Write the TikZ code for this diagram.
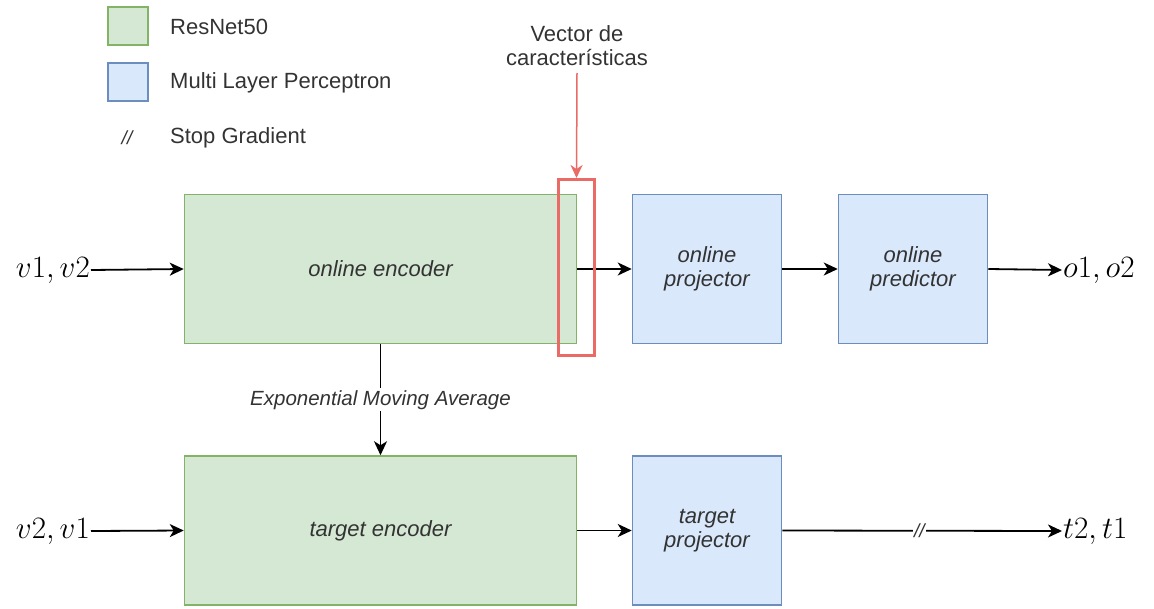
\documentclass[tikz,border=0pt]{standalone}
\usepackage{fontspec}
\setmainfont{Liberation Sans}
\usetikzlibrary{arrows.meta}
\definecolor{encfill}{HTML}{D5E8D4}
\definecolor{encline}{HTML}{82B366}
\definecolor{mlpfill}{HTML}{DAE8FC}
\definecolor{mlpline}{HTML}{6C8EBF}
\definecolor{featred}{HTML}{EA6B66}
\definecolor{txt}{HTML}{333333}
\newcommand{\bigmath}[1]{\scalebox{1.25}{$#1$}}
\begin{document}
\begin{tikzpicture}[x=1pt,y=-1pt,
  font=\fontsize{22}{24}\selectfont,
  enc/.style={draw=encline, fill=encfill, line width=1.5pt,
    minimum width=392pt, minimum height=149pt, inner sep=0pt,
    font=\fontsize{22}{24}\selectfont\itshape, text=txt},
  mlp/.style={draw=mlpline, fill=mlpfill, line width=1.5pt,
    minimum width=149pt, minimum height=149pt, inner sep=0pt, align=center,
    font=\fontsize{22}{24}\selectfont\itshape, text=txt},
  flow/.style={-{Stealth[length=14pt,width=13pt,inset=4pt]}, line width=1.8pt},
  var/.style={font=\fontsize{24.88}{28}\selectfont, inner sep=1pt},
  legtext/.style={anchor=west, inner sep=0pt, text=txt},
]
\useasboundingbox (0,0) rectangle (1154,608);

% legend
\node[draw=encline, fill=encfill, line width=2pt, minimum width=40pt, minimum height=38pt] (lgres) at (128,26) {};
\node[legtext] (lgrest) at (170,27) {ResNet50};
\node[draw=mlpline, fill=mlpfill, line width=2pt, minimum width=40pt, minimum height=38pt] (lgmlp) at (128,82) {};
\node[legtext] (lgmlpt) at (170,83) {Multi Layer Perceptron};
\node[inner sep=0pt, text=txt, font=\fontsize{19}{20}\selectfont\itshape] (lgsg) at (127,138) {//};
\node[legtext] (lgsgt) at (170,138) {Stop Gradient};

% online branch
\node[enc] (onenc) at (380.5,269) {online encoder};
\node[mlp] (onproj) at (707,269) {online\\projector};
\node[mlp] (onpred) at (913,269) {online\\predictor};
\node[var, anchor=east] (in1) at (91,270) {\bigmath{v1, v2}};
\node[var, anchor=west] (out1) at (1062,270) {\bigmath{o1, o2}};

% target branch
\node[enc] (tgenc) at (380.5,530.5) {target encoder};
\node[mlp] (tgproj) at (707,530.5) {target\\projector};
\node[var, anchor=east] (in2) at (91,531) {\bigmath{v2, v1}};
\node[var, anchor=west] (out2) at (1062,531) {\bigmath{t2, t1}};

% connectors
\draw[flow] (in1.east) -- (onenc.west);
\draw[flow] (onenc.east) -- (onproj.west);
\draw[flow] (onproj.east) -- (onpred.west);
\draw[flow] (onpred.east) -- (out1.west);
\draw[flow] (in2.east) -- (tgenc.west);
\draw[flow] (tgenc.east) -- (tgproj.west);
\draw[flow] (tgproj.east) -- (out2.west)
  node[pos=0.49, fill=white, inner sep=1pt, text=txt, font=\fontsize{19}{20}\selectfont\itshape] (sg) {//};
\draw[flow] (onenc.south) -- (tgenc.north)
  node[midway, fill=white, inner sep=2pt, text=txt, font=\fontsize{20.5}{22}\selectfont\itshape] (ema) {Exponential Moving Average};

% feature vector highlight
\node[draw=featred, line width=3pt, minimum width=36pt, minimum height=176pt, inner sep=0pt] (feat) at (576.5,267.5) {};
\node[align=center, text=txt, inner sep=2pt] (featlbl) at (577,46) {Vector de\\características};
\draw[featred, line width=1.5pt, -{Stealth[length=13pt,width=12pt,inset=4pt]}] (577,73) -- (feat.north);
\end{tikzpicture}
\end{document}
